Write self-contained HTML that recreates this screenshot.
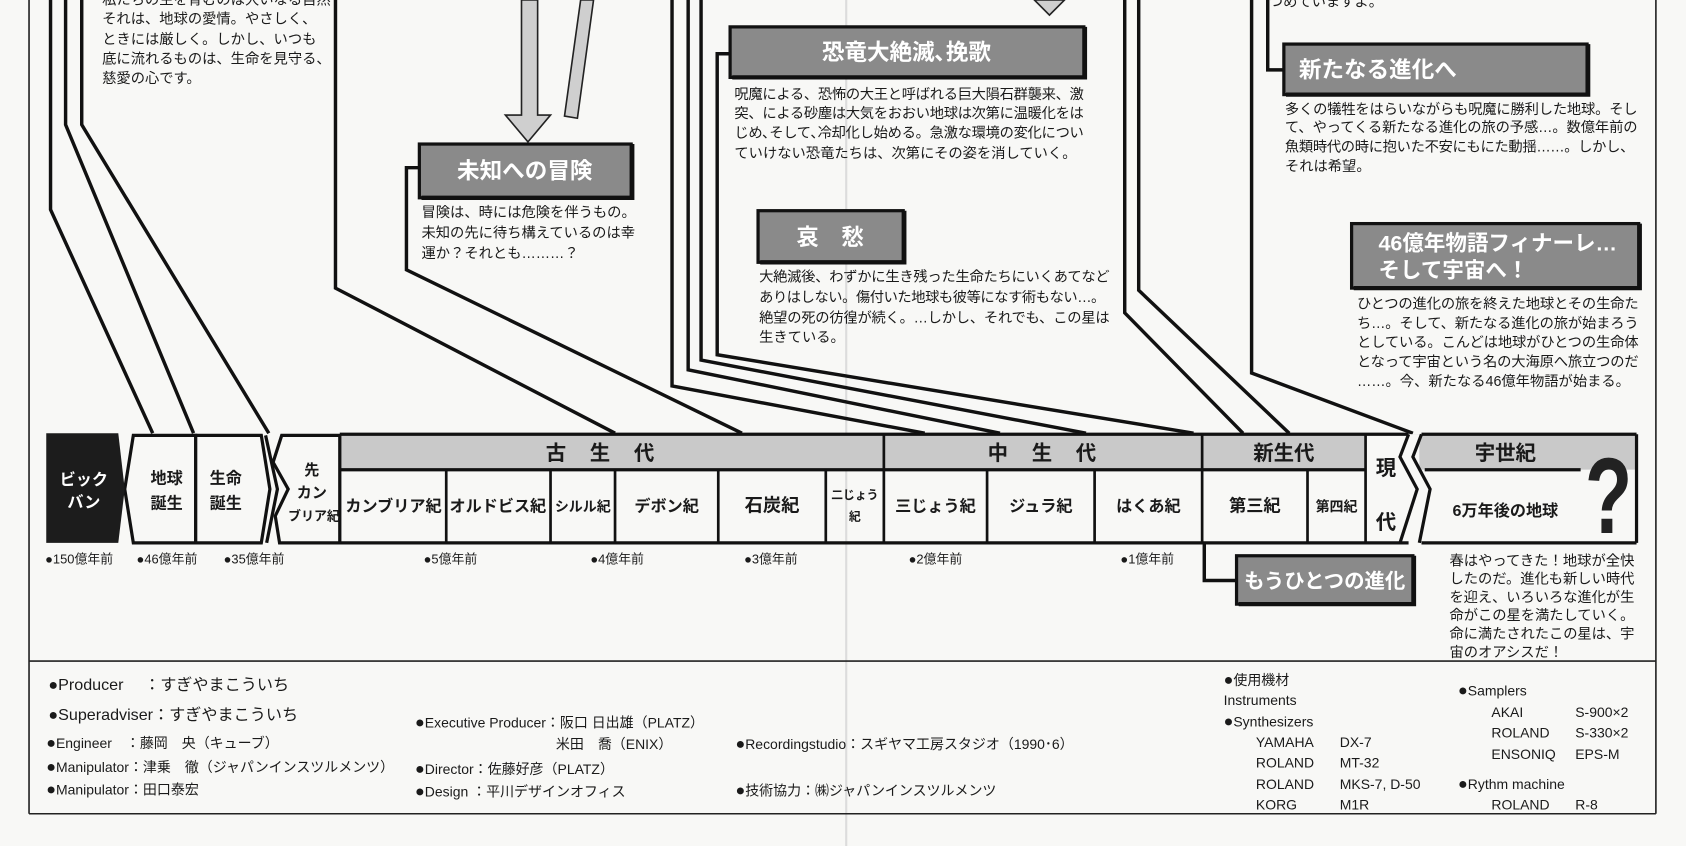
<!DOCTYPE html>
<html><head><meta charset="utf-8">
<style>
html,body{margin:0;padding:0;background:#f8f8f6;}
svg{display:block}
text{font-family:"Liberation Sans","Noto Sans CJK JP",sans-serif;fill:#1a1a1a}
.b{font-size:13.3px}
.t{font-weight:bold;fill:#fff;font-size:21px}
.c{font-weight:bold;font-size:15px}
.h{font-weight:bold;font-size:19px}
.d{font-size:12px}
.cr{font-size:13px}
.bl{font-size:15px}
</style></head>
<body>
<svg width="1686" height="846" viewBox="0 0 1568 787" preserveAspectRatio="none" xmlns="http://www.w3.org/2000/svg">
<rect width="1568" height="787" fill="#f8f8f6"/>
<line x1="787" y1="0" x2="787" y2="787" stroke="#dcdcdc" stroke-width="2"/>
<g stroke="#222" stroke-width="1.5" fill="none">
<line x1="27" y1="0" x2="27" y2="757"/>
<line x1="1540" y1="0" x2="1540" y2="757"/>
<line x1="27" y1="757" x2="1540" y2="757"/>
<line x1="27" y1="615" x2="1540" y2="615"/>
</g>
<g stroke="#111" stroke-width="3.2" fill="none" stroke-linejoin="miter">
<path d="M47,0 V195 L142,403"/>
<path d="M61,0 V116 L180,403"/>
<path d="M76,0 V116 L250,403"/>
<path d="M312,0 V268 L572,403"/>
<path d="M390,156 H378 V251 L690,403"/>
<path d="M625,0 V359 L860,403"/>
<path d="M640,0 V344 L930,403"/>
<path d="M652,0 V335 L1010,403"/>
<path d="M680,50 H667 V330 L1110,403"/>
<path d="M1046,0 V291 L1156,403"/>
<path d="M1059,0 V270 L1199,403"/>
<path d="M1164,0 V347 L1314,403"/>
<path d="M1194,65 H1179 V0"/>
<path d="M1120,505 V540 H1150"/>
</g>
<g stroke="#222" stroke-width="1.5" fill="#cfcfcf">
<path d="M485,0 V107 H470 L491,132 L512,107 H500 V0 Z"/>
<path d="M540,0 L552,0 L537,110 L525,108 Z"/>
<path d="M962,0 L990,0 L976,14 Z"/>
</g>
<g fill="#8a8a8a" stroke="#111" stroke-width="3">
<rect x="390" y="134" width="197" height="50"/>
<rect x="679" y="25" width="329" height="47"/>
<rect x="705" y="196" width="135" height="48"/>
<rect x="1194" y="41" width="282" height="47"/>
<rect x="1257" y="208" width="267" height="60"/>
</g>
<g stroke="#111" stroke-width="4" fill="none">
<path d="M392,184 H588 V134"/><path d="M681,72 H1009 V25"/><path d="M707,244 H841 V196"/><path d="M1196,88 H1477 V41"/><path d="M1259,268 H1525 V208"/>
</g>
<text class="t" x="488" y="166" text-anchor="middle">未知への冒険</text>
<text class="t" x="843" y="56" text-anchor="middle">恐竜大絶滅､挽歌</text>
<text class="t" x="772" y="228" text-anchor="middle">哀　愁</text>
<text class="t" x="1208" y="72">新たなる進化へ</text>
<text class="t" x="1282" y="233" style="font-size:20px">46億年物語フィナーレ…</text>
<text class="t" x="1282" y="258" style="font-size:20px">そして宇宙へ！</text>
<g class="b">
<text x="95" y="4">私たちの生を育むのは大いなる自然</text>
<text x="95" y="22">それは、地球の愛情。やさしく、</text>
<text x="95" y="41">ときには厳しく。しかし、いつも</text>
<text x="95" y="59">底に流れるものは、生命を見守る、</text>
<text x="95" y="77">慈愛の心です。</text>
<text x="1180" y="6">つめていますよ。</text>
<text x="392" y="202">冒険は、時には危険を伴うもの。</text>
<text x="392" y="221">未知の先に待ち構えているのは幸</text>
<text x="392" y="240">運か？それとも………？</text>
<text x="683" y="92" textLength="325">呪魔による、恐怖の大王と呼ばれる巨大隕石群襲来、激</text>
<text x="683" y="110" textLength="325">突、による砂塵は大気をおおい地球は次第に温暖化をは</text>
<text x="683" y="128" textLength="325">じめ､そして､冷却化し始める。急激な環境の変化につい</text>
<text x="683" y="147">ていけない恐竜たちは、次第にその姿を消していく。</text>
<text x="706" y="262" textLength="326">大絶滅後、わずかに生き残った生命たちにいくあてなど</text>
<text x="706" y="281" textLength="322">ありはしない。傷付いた地球も彼等になす術もない…。</text>
<text x="706" y="300" textLength="326">絶望の死の彷徨が続く。…しかし、それでも、この星は</text>
<text x="706" y="318">生きている。</text>
<text x="1195" y="106" textLength="328">多くの犠牲をはらいながらも呪魔に勝利した地球。そし</text>
<text x="1195" y="123" textLength="328">て、やってくる新たなる進化の旅の予感…。数億年前の</text>
<text x="1195" y="141" textLength="325">魚類時代の時に抱いた不安にもにた動揺……。しかし、</text>
<text x="1195" y="159">それは希望。</text>
<text x="1262" y="287" textLength="262">ひとつの進化の旅を終えた地球とその生命た</text>
<text x="1262" y="305" textLength="262">ち…。そして、新たなる進化の旅が始まろう</text>
<text x="1262" y="323" textLength="262">としている。こんどは地球がひとつの生命体</text>
<text x="1262" y="341" textLength="262">となって宇宙という名の大海原へ旅立つのだ</text>
<text x="1262" y="359">……。今、新たなる46億年物語が始まる。</text>
<text x="1348" y="526" textLength="172">春はやってきた！地球が全快</text>
<text x="1348" y="543" textLength="172">したのだ。進化も新しい時代</text>
<text x="1348" y="560" textLength="172">を迎え、いろいろな進化が生</text>
<text x="1348" y="577" textLength="172">命がこの星を満たしていく。</text>
<text x="1348" y="594" textLength="172">命に満たされたこの星は、宇</text>
<text x="1348" y="611">宙のオアシスだ！</text>
</g>
<rect x="316" y="404" width="1206" height="33" fill="#c9c9c9"/>
<rect x="1270" y="404" width="50" height="101" fill="#f8f8f6"/>
<rect x="1320" y="437" width="202" height="68" fill="#f8f8f6"/>
<g stroke="#111" stroke-width="3" fill="none">
<line x1="316" y1="404" x2="1310" y2="404"/>
<line x1="1322" y1="404" x2="1522" y2="404"/>
<line x1="316" y1="505" x2="1310" y2="505"/>
<line x1="1322" y1="505" x2="1522" y2="505"/>
<line x1="316" y1="437" x2="1270" y2="437"/>
<line x1="1325" y1="437" x2="1470" y2="437"/>
<line x1="1522" y1="404" x2="1522" y2="505"/>
<g stroke-width="2.5">
<line x1="316" y1="404" x2="316" y2="505"/>
<line x1="415" y1="437" x2="415" y2="505"/>
<line x1="512" y1="437" x2="512" y2="505"/>
<line x1="572" y1="437" x2="572" y2="505"/>
<line x1="668" y1="437" x2="668" y2="505"/>
<line x1="768" y1="437" x2="768" y2="505"/>
<line x1="822" y1="404" x2="822" y2="505"/>
<line x1="918" y1="437" x2="918" y2="505"/>
<line x1="1018" y1="437" x2="1018" y2="505"/>
<line x1="1118" y1="404" x2="1118" y2="505"/>
<line x1="1216" y1="437" x2="1216" y2="505"/>
<line x1="1270" y1="404" x2="1270" y2="505"/>
</g>
<path d="M1310,404 L1302,425 L1318,455 L1302,505"/>
<path d="M1322,404 L1314,425 L1330,455 L1320,505"/>
<polygon points="124,405 182,405 182,505 124,505 116,455" fill="#f8f8f6"/>
<polygon points="182,405 243,405 251,455 243,505 182,505" fill="#f8f8f6"/>
<polygon points="262,405 316,405 316,505 260,505 256,480 268,455 254,430" fill="#f8f8f6"/>
<path d="M247,405 L258,455 L248,505"/>
</g>
<polygon points="43,403 110,403 116,455 110,505 43,505" fill="#1c1c1c"/>
<text x="78" y="451" text-anchor="middle" style="font-weight:bold;font-size:15px;fill:#fff">ビック</text>
<text x="78" y="472" text-anchor="middle" style="font-weight:bold;font-size:15px;fill:#fff">バン</text>
<g class="c" text-anchor="middle">
<text x="155" y="450">地球</text><text x="155" y="473">誕生</text>
<text x="210" y="450">生命</text><text x="210" y="473">誕生</text>
<text x="290" y="442" style="font-size:14px">先</text>
<text x="290" y="463" style="font-size:14px">カン</text>
<text x="292" y="484" style="font-size:12px">ブリア紀</text>
<text x="366" y="476">カンブリア紀</text>
<text x="463" y="476">オルドビス紀</text>
<text x="542" y="476" style="font-size:13px">シルル紀</text>
<text x="620" y="476">デボン紀</text>
<text x="718" y="476" style="font-size:17px">石炭紀</text>
<text x="795" y="464" style="font-size:11px">二じょう</text>
<text x="795" y="484" style="font-size:11px">紀</text>
<text x="870" y="476">三じょう紀</text>
<text x="968" y="476">ジュラ紀</text>
<text x="1068" y="476">はくあ紀</text>
<text x="1167" y="476" style="font-size:16px">第三紀</text>
<text x="1243" y="476" style="font-size:13px">第四紀</text>
<text x="1289" y="442" style="font-size:19px">現</text>
<text x="1289" y="492" style="font-size:19px">代</text>
<text x="1400" y="480">6万年後の地球</text>
</g>
<g class="h" text-anchor="middle">
<text x="569" y="428" style="letter-spacing:22px">古生代</text>
<text x="980" y="428" style="letter-spacing:22px">中生代</text>
<text x="1194" y="428">新生代</text>
<text x="1400" y="428">宇世紀</text>
</g>
<text transform="translate(1496,496) scale(0.72,1)" text-anchor="middle" style="font-weight:bold;font-size:100px;fill:#222">?</text>
<g class="d">
<text x="42" y="524">●150億年前</text>
<text x="127" y="524">●46億年前</text>
<text x="208" y="524">●35億年前</text>
<text x="394" y="524">●5億年前</text>
<text x="549" y="524">●4億年前</text>
<text x="692" y="524">●3億年前</text>
<text x="845" y="524">●2億年前</text>
<text x="1042" y="524">●1億年前</text>
</g>
<rect x="1150" y="517" width="164" height="45" fill="#8a8a8a" stroke="#111" stroke-width="3"/>
<path d="M1152,562 H1315 V517" stroke="#111" stroke-width="4" fill="none"/>
<text class="t" x="1232" y="547" text-anchor="middle" style="font-size:19px">もうひとつの進化</text>
<g class="cr">
<text x="45" y="642" style="font-size:15px"><tspan class="bl">●</tspan>Producer　  ：すぎやまこういち</text>
<text x="45" y="670" style="font-size:15px"><tspan class="bl">●</tspan>Superadviser：すぎやまこういち</text>
<text x="43" y="696"><tspan class="bl">●</tspan>Engineer　：藤岡　央（キューブ）</text>
<text x="43" y="718"><tspan class="bl">●</tspan>Manipulator：津乗　徹（ジャパンインスツルメンツ）</text>
<text x="43" y="739"><tspan class="bl">●</tspan>Manipulator：田口泰宏</text>
<text x="386" y="677"><tspan class="bl">●</tspan>Executive Producer：阪口 日出雄（PLATZ）</text>
<text x="517" y="697">米田　喬（ENIX）</text>
<text x="386" y="720"><tspan class="bl">●</tspan>Director：佐藤好彦（PLATZ）</text>
<text x="386" y="741"><tspan class="bl">●</tspan>Design ：平川デザインオフィス</text>
<text x="684" y="697"><tspan class="bl">●</tspan>Recordingstudio：スギヤマ工房スタジオ（1990･6）</text>
<text x="684" y="740"><tspan class="bl">●</tspan>技術協力：㈱ジャパンインスツルメンツ</text>
<text x="1138" y="637"><tspan class="bl">●</tspan>使用機材</text>
<text x="1138" y="656">Instruments</text>
<text x="1138" y="676"><tspan class="bl">●</tspan>Synthesizers</text>
<text x="1168" y="695">YAMAHA</text><text x="1246" y="695">DX-7</text>
<text x="1168" y="714">ROLAND</text><text x="1246" y="714">MT-32</text>
<text x="1168" y="734">ROLAND</text><text x="1246" y="734">MKS-7, D-50</text>
<text x="1168" y="753">KORG</text><text x="1246" y="753">M1R</text>
<text x="1356" y="647"><tspan class="bl">●</tspan>Samplers</text>
<text x="1387" y="667">AKAI</text><text x="1465" y="667">S-900×2</text>
<text x="1387" y="686">ROLAND</text><text x="1465" y="686">S-330×2</text>
<text x="1387" y="706">ENSONIQ</text><text x="1465" y="706">EPS-M</text>
<text x="1356" y="734"><tspan class="bl">●</tspan>Rythm machine</text>
<text x="1387" y="753">ROLAND</text><text x="1465" y="753">R-8</text>
</g>
</svg>
</body></html>
